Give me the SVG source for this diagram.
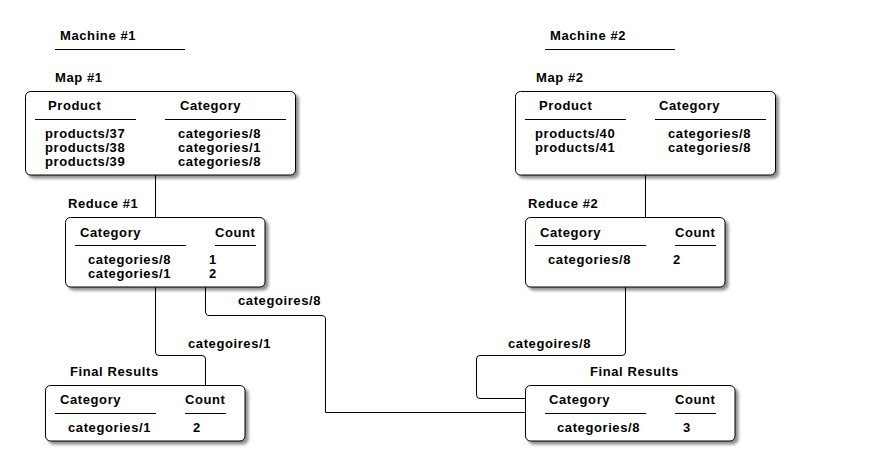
<svg xmlns="http://www.w3.org/2000/svg" width="870" height="476" viewBox="0 0 870 476">
<defs>
<filter id="sh" x="-10%" y="-10%" width="130%" height="140%">
<feDropShadow dx="3" dy="3" stdDeviation="1.5" flood-color="#000" flood-opacity="0.45"/>
</filter>
</defs>
<style>
text{font-family:"Liberation Sans",Arial,sans-serif;font-weight:bold;font-size:13px;letter-spacing:0.6px;fill:#000}
.box{fill:#fff;stroke:#000;stroke-width:1;filter:url(#sh)}
.ul{stroke:#000;stroke-width:1}
.conn{fill:none;stroke:#000;stroke-width:1}
</style>
<rect width="870" height="476" fill="#fff"/>
<g id="machine1">
<text x="60" y="40">Machine #1</text>
<line class="ul" x1="55" y1="49.5" x2="185" y2="49.5"/>
</g>
<g id="machine2">
<text x="550" y="40">Machine #2</text>
<line class="ul" x1="545" y1="49.5" x2="675" y2="49.5"/>
</g>
<g id="connectors">
<path class="conn" d="M155.5 175 V217"/>
<path class="conn" d="M645.5 175 V217"/>
<path class="conn" d="M155.5 287 V352 Q155.5 355.5 159 355.5 H202 Q205.5 355.5 205.5 359 V385"/>
<path class="conn" d="M205.5 287 V311 Q205.5 315.5 209 315.5 H321 Q325.5 315.5 325.5 319 V412.5 H526"/>
<path class="conn" d="M625.5 287 V352 Q625.5 355.5 622 355.5 H480 Q476.5 355.5 476.5 359 V395 Q476.5 398.5 480 398.5 H526"/>
<text x="238" y="305">categoires/8</text>
<text x="188" y="348">categoires/1</text>
<text x="508" y="348">categoires/8</text>
</g>
<g id="map1">
<text x="55" y="82">Map #1</text>
<rect class="box" x="25.5" y="91.5" width="270" height="83.5" rx="5"/>
<text x="48" y="110">Product</text>
<text x="180" y="110">Category</text>
<line class="ul" x1="35" y1="119.5" x2="136" y2="119.5"/>
<line class="ul" x1="165" y1="119.5" x2="286" y2="119.5"/>
<text x="45" y="138">products/37</text>
<text x="45" y="152">products/38</text>
<text x="45" y="166">products/39</text>
<text x="178" y="138">categories/8</text>
<text x="178" y="152">categories/1</text>
<text x="178" y="166">categories/8</text>
</g>
<g id="map2">
<text x="536" y="82">Map #2</text>
<rect class="box" x="515.5" y="91.5" width="260" height="83.5" rx="5"/>
<text x="539" y="110">Product</text>
<text x="659" y="110">Category</text>
<line class="ul" x1="525" y1="119.5" x2="626" y2="119.5"/>
<line class="ul" x1="655" y1="119.5" x2="766" y2="119.5"/>
<text x="535" y="138">products/40</text>
<text x="535" y="152">products/41</text>
<text x="668" y="138">categories/8</text>
<text x="668" y="152">categories/8</text>
</g>
<g id="reduce1">
<text x="68" y="208">Reduce #1</text>
<rect class="box" x="65.5" y="217.5" width="199.5" height="69.5" rx="5"/>
<text x="80" y="237">Category</text>
<text x="215" y="237">Count</text>
<line class="ul" x1="75" y1="245.5" x2="186" y2="245.5"/>
<line class="ul" x1="215" y1="245.5" x2="256" y2="245.5"/>
<text x="88" y="264">categories/8</text>
<text x="88" y="277.5">categories/1</text>
<text x="209" y="264">1</text>
<text x="209" y="277.5">2</text>
</g>
<g id="reduce2">
<text x="528" y="208">Reduce #2</text>
<rect class="box" x="525.5" y="217.5" width="199.5" height="69.5" rx="5"/>
<text x="540" y="237">Category</text>
<text x="675" y="237">Count</text>
<line class="ul" x1="535" y1="245.5" x2="646" y2="245.5"/>
<line class="ul" x1="675" y1="245.5" x2="716" y2="245.5"/>
<text x="548" y="264">categories/8</text>
<text x="673" y="264">2</text>
</g>
<g id="final1">
<text x="70" y="376">Final Results</text>
<rect class="box" x="45.5" y="385.5" width="199.5" height="55.5" rx="5"/>
<text x="60" y="404">Category</text>
<text x="185" y="404">Count</text>
<line class="ul" x1="55" y1="413.5" x2="156" y2="413.5"/>
<line class="ul" x1="185" y1="413.5" x2="226" y2="413.5"/>
<text x="68" y="432">categories/1</text>
<text x="193" y="432">2</text>
</g>
<g id="final2">
<text x="590" y="376">Final Results</text>
<rect class="box" x="525.5" y="385.5" width="209.5" height="55.5" rx="5"/>
<text x="549" y="404">Category</text>
<text x="675" y="404">Count</text>
<line class="ul" x1="545" y1="413.5" x2="646" y2="413.5"/>
<line class="ul" x1="675" y1="413.5" x2="716" y2="413.5"/>
<text x="557" y="432">categories/8</text>
<text x="683" y="432">3</text>
</g>
</svg>
